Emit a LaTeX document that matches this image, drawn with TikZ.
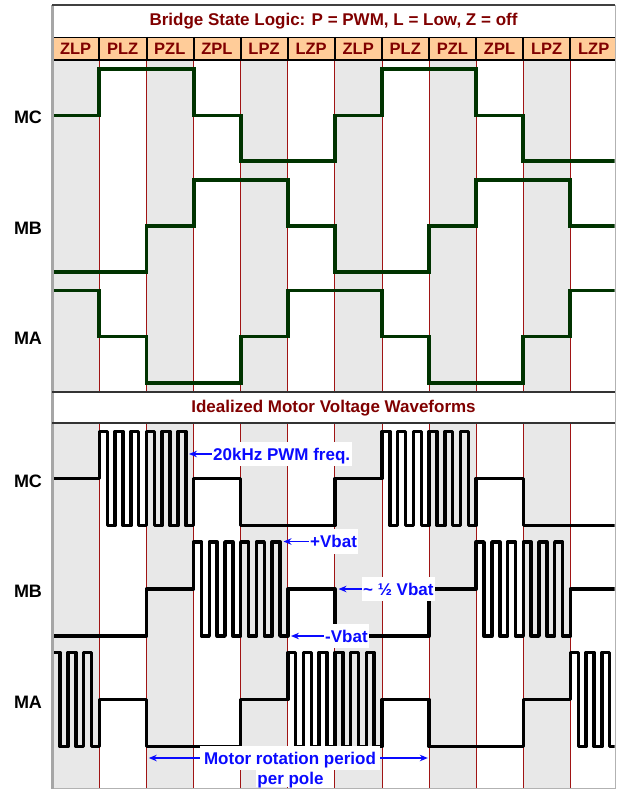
\documentclass[tikz,border=0pt]{standalone}
\usepackage{fontspec}
\setmainfont{Liberation Sans}
\usetikzlibrary{arrows.meta}
\definecolor{maroon}{RGB}{128,0,0}
\definecolor{peach}{RGB}{255,204,153}
\definecolor{colgray}{RGB}{232,232,232}
\definecolor{redline}{RGB}{160,20,20}
\definecolor{dkgreen}{RGB}{0,51,0}
\definecolor{annblue}{RGB}{10,10,255}
\definecolor{barg}{RGB}{166,166,166}
\tikzset{
  titletxt/.style={font=\bfseries\fontsize{17}{20}\selectfont, text=maroon, inner sep=0pt, anchor=base},
  statetxt/.style={font=\bfseries\fontsize{16.5}{19}\selectfont, text=maroon, inner sep=0pt, anchor=base},
  sidetxt/.style={font=\bfseries\fontsize{18}{21}\selectfont, inner sep=0pt},
  ann/.style={font=\bfseries\fontsize{17}{20}\selectfont, text=annblue, fill=white, anchor=west, text height=12.2pt, text depth=0pt, inner ysep=6pt, inner xsep=1.5pt},
  annarrow/.style={annblue, line width=1.2pt, -{Stealth[length=8pt,width=6.5pt]}},
  gwave/.style={dkgreen, line width=3.9pt},
  bwave/.style={black, line width=3.5pt, line join=round},
  redl/.style={redline, line width=1pt},
}
\def\hp{7.85}
\begin{document}
\begin{tikzpicture}[x=1pt,y=-1pt]
\useasboundingbox (0,0) rectangle (617,789);
\fill[white] (0,0) rectangle (617,789);
% shaded columns
\foreach \i in {0,2,...,10}{
  \fill[colgray] ({52.3+47.1*\i},61) rectangle ({52.3+47.1*(\i+1)},392);
  \fill[colgray] ({52.3+47.1*\i},423) rectangle ({52.3+47.1*(\i+1)},788);
}
% red column lines
\foreach \i in {1,...,11}{
  \draw[redl] ({52.3+47.1*\i},61) -- ({52.3+47.1*\i},392);
  \draw[redl] ({52.3+47.1*\i},423) -- ({52.3+47.1*\i},788);
}
\begin{scope}
\clip (54,0) rectangle (614.5,789);
% top logic waveforms
\draw[gwave] (52.3,115.5) -- (99.4,115.5) -- (99.4,69) -- (193.6,69) -- (193.6,115.5) -- (240.7,115.5) -- (240.7,161) -- (334.9,161) -- (334.9,115.5) -- (382,115.5) -- (382,69) -- (476.2,69) -- (476.2,115.5) -- (523.3,115.5) -- (523.3,161) -- (617,161);
\draw[gwave] (52.3,272) -- (146.5,272) -- (146.5,226) -- (193.6,226) -- (193.6,180) -- (287.8,180) -- (287.8,226) -- (334.9,226) -- (334.9,272) -- (429.1,272) -- (429.1,226) -- (476.2,226) -- (476.2,180) -- (570.4,180) -- (570.4,226) -- (617,226);
\draw[gwave] (52.3,290.5) -- (99.4,290.5) -- (99.4,336.5) -- (146.5,336.5) -- (146.5,383) -- (240.7,383) -- (240.7,336.5) -- (287.8,336.5) -- (287.8,290.5) -- (382,290.5) -- (382,336.5) -- (429.1,336.5) -- (429.1,383) -- (523.3,383) -- (523.3,336.5) -- (570.4,336.5) -- (570.4,290.5) -- (617,290.5);
% bottom voltage waveforms
\draw[bwave] (52.3,478.5) -- (99.4,478.5) -- (99.4,431.5)
  \foreach \k in {1,...,5}{ -- ++(\hp,0) -- ++(0,94) -- ++(\hp,0) -- ++(0,-94) }
  -- ++(\hp,0) -- ++(0,94) -- (193.6,525.5) -- (193.6,478.5) -- (240.7,478.5) -- (240.7,525.5) -- (334.9,525.5) -- (334.9,478.5) -- (382,478.5) -- (382,431.5)
  \foreach \k in {1,...,5}{ -- ++(\hp,0) -- ++(0,94) -- ++(\hp,0) -- ++(0,-94) }
  -- ++(\hp,0) -- ++(0,94) -- (476.2,525.5) -- (476.2,478.5) -- (523.3,478.5) -- (523.3,525.5) -- (617,525.5);
\draw[bwave] (52.3,636) -- (146.5,636) -- (146.5,589) -- (193.6,589) -- (193.6,542)
  \foreach \k in {1,...,5}{ -- ++(\hp,0) -- ++(0,94) -- ++(\hp,0) -- ++(0,-94) }
  -- ++(\hp,0) -- ++(0,94) -- (287.8,636) -- (287.8,589) -- (334.9,589) -- (334.9,636) -- (429.1,636) -- (429.1,589) -- (476.2,589) -- (476.2,542)
  \foreach \k in {1,...,5}{ -- ++(\hp,0) -- ++(0,94) -- ++(\hp,0) -- ++(0,-94) }
  -- ++(\hp,0) -- ++(0,94) -- (570.4,636) -- (570.4,589) -- (617,589);
\draw[bwave] (52.3,652.5)
  \foreach \k in {1,2}{ -- ++(\hp,0) -- ++(0,94) -- ++(\hp,0) -- ++(0,-94) }
  -- ++(\hp,0) -- ++(0,94) -- (99.4,746.5) -- (99.4,699.5) -- (146.5,699.5) -- (146.5,746.5) -- (240.7,746.5) -- (240.7,699.5) -- (287.8,699.5) -- (287.8,652.5)
  \foreach \k in {1,...,5}{ -- ++(\hp,0) -- ++(0,94) -- ++(\hp,0) -- ++(0,-94) }
  -- ++(\hp,0) -- ++(0,94) -- (382,746.5) -- (382,699.5) -- (429.1,699.5) -- (429.1,746.5) -- (523.3,746.5) -- (523.3,699.5) -- (570.4,699.5) -- (570.4,652.5)
  \foreach \k in {1,2,3}{ -- ++(\hp,0) -- ++(0,94) -- ++(\hp,0) -- ++(0,-94) };
\end{scope}
% frame pieces
\fill[barg] (50.8,5) rectangle (54.3,789);
\draw[gray!60, line width=1pt] (615,5) -- (615,789);
\draw[gray!60, line width=1pt] (54,788.3) -- (615,788.3);
\draw[black!75, line width=1.5pt] (52,5) -- (615,5);
% state band
\fill[peach] (54.3,37) rectangle (614.5,60);
\draw[black, line width=1pt] (54.3,37.3) -- (614.5,37.3);
\draw[black, line width=2pt] (54.3,60) -- (614.5,60);
\foreach \i in {1,...,11}{
  \draw[black, line width=2pt] ({52.3+47.1*\i},37) -- ({52.3+47.1*\i},60);
}
% second title box
\fill[white] (54.3,392) rectangle (614.5,423);
\draw[black!80, line width=1.3pt] (52,392) -- (615,392);
\draw[black!80, line width=1.3pt] (52,423) -- (615,423);
% titles
\node[titletxt] (title) at (333.5,26) {Bridge State Logic: P = PWM, L = Low, Z = off};
\node[titletxt] (subtitle) at (333.5,412.5) {Idealized Motor Voltage Waveforms};
\foreach \s [count=\i from 0] in {ZLP,PLZ,PZL,ZPL,LPZ,LZP,ZLP,PLZ,PZL,ZPL,LPZ,LZP}{
  \node[statetxt] (st\i) at ({52.3+47.1*\i+23.3},54.3) {\s};
}
% side labels
\node[sidetxt] (mcT) at (28,117.5) {MC};
\node[sidetxt] (mbT) at (28,228) {MB};
\node[sidetxt] (maT) at (28,338.5) {MA};
\node[sidetxt] (mcB) at (28,481) {MC};
\node[sidetxt] (mbB) at (28,591.5) {MB};
\node[sidetxt] (maB) at (28,702) {MA};
% annotations
\node[ann] (pwm) at (211.5,454) {20kHz PWM freq.};
\coordinate (pwmtip) at (189,454);
\draw[annarrow] (pwm.west) -- (pwmtip);
\node[ann] (pv) at (308.5,541.5) {+Vbat};
\coordinate (pvtip) at (283.5,541.5);
\draw[annarrow] (pv.west) -- (pvtip);
\node[ann] (hv) at (361.5,589) {\textasciitilde{} ½ Vbat};
\coordinate (hvtip) at (338.5,589);
\draw[annarrow] (hv.west) -- (hvtip);
\node[ann] (nv) at (323.5,636) {-Vbat};
\coordinate (nvtip) at (291,636);
\draw[annarrow] (nv.west) -- (nvtip);
\node[ann, anchor=center, inner xsep=4pt] (mrp) at (290,758) {Motor rotation period};
\node[ann, anchor=center, inner ysep=3pt] (pp) at (290.5,778) {per pole};
\coordinate (mrpl) at (148.8,758);
\coordinate (mrpr) at (427.8,758);
\draw[annarrow] (mrp.west) -- (mrpl);
\draw[annarrow] (mrp.east) -- (mrpr);
\end{tikzpicture}
\end{document}
